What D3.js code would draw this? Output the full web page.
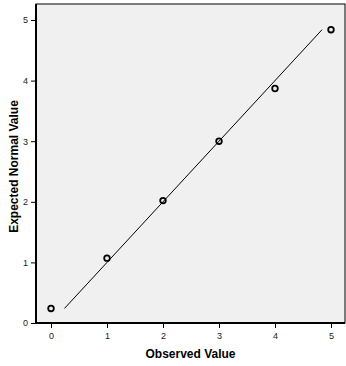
<!DOCTYPE html>
<html><head><meta charset="utf-8">
<script src="https://cdn.jsdelivr.net/npm/d3@7"></script>
<style>body{margin:0;background:#fff}svg{display:block}</style>
</head><body>
<script>
const observed = [0, 1, 2, 3, 4, 5];
const expected = [0.24, 1.07, 2.02, 3.0, 3.87, 4.84];
const xTicks = [0, 1, 2, 3, 4, 5];
const yTicks = [0, 1, 2, 3, 4, 5];
const refLine = [0.24, 4.84];

const W = 346, H = 366;
const svg = d3.select("body").append("svg").attr("width", W).attr("height", H);
const L = 36, R = 345, T = 4, B = 323;
const x = d3.scaleLinear().domain([-0.268, 5.25]).range([L, R]);
const y = d3.scaleLinear().domain([0, 5.264]).range([B, T]);

svg.append("rect").attr("x", L).attr("y", T).attr("width", R - L).attr("height", B - T)
  .attr("fill", "#f0f0f0").attr("stroke", "#000").attr("stroke-width", 1);

const xa = svg.append("g").attr("transform", `translate(0,${B})`)
  .call(d3.axisBottom(x).tickValues(xTicks).tickSize(5).tickPadding(5).tickFormat(d3.format("d")));
const ya = svg.append("g").attr("transform", `translate(${L},0)`)
  .call(d3.axisLeft(y).tickValues(yTicks).tickSize(5).tickPadding(3).tickFormat(d3.format("d")));
[xa, ya].forEach(a => {
  a.select(".domain").remove();
  a.selectAll("text").attr("font-family", "Liberation Sans, Arial, sans-serif").attr("font-size", 9).attr("fill", "#222");
  a.selectAll("line").attr("stroke", "#000");
});
svg.append("line").attr("x1", L).attr("x2", L).attr("y1", T).attr("y2", B + 0.5).attr("stroke", "#000").attr("stroke-width", 2);
svg.append("line").attr("x1", L).attr("x2", R).attr("y1", B).attr("y2", B).attr("stroke", "#000").attr("stroke-width", 2);

svg.append("line").attr("x1", x(refLine[0])).attr("y1", y(refLine[0]))
  .attr("x2", x(refLine[1])).attr("y2", y(refLine[1])).attr("stroke", "#000").attr("stroke-width", 1);

svg.selectAll("circle.pt").data(observed).enter().append("circle")
  .attr("cx", (d) => x(d)).attr("cy", (d, i) => y(expected[i])).attr("r", 2.8)
  .attr("fill", "none").attr("stroke", "#000").attr("stroke-width", 1.8);

svg.append("text").attr("x", (L + R) / 2).attr("y", 358).attr("text-anchor", "middle")
  .attr("font-family", "Liberation Sans, Arial, sans-serif").attr("font-weight", "bold").attr("font-size", 12)
  .text("Observed Value");
svg.append("text").attr("transform", `translate(18,${(T + B) / 2 + 3}) rotate(-90)`).attr("text-anchor", "middle")
  .attr("font-family", "Liberation Sans, Arial, sans-serif").attr("font-weight", "bold").attr("font-size", 12)
  .text("Expected Normal Value");
</script>
</body></html>
